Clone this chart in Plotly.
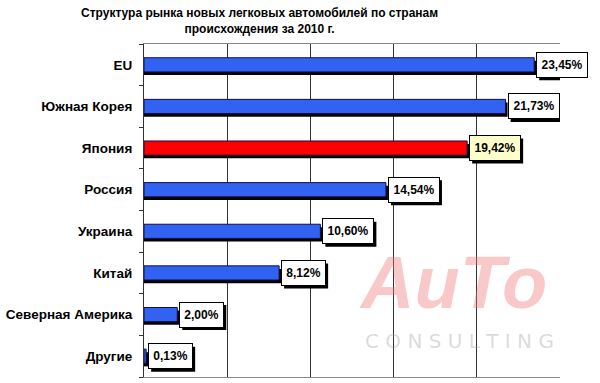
import plotly.graph_objects as go

categories = ["EU", "Южная Корея", "Япония", "Россия", "Украина", "Китай", "Северная Америка", "Другие"]
values = [23.45, 21.73, 19.42, 14.54, 10.60, 8.12, 2.00, 0.13]
labels = ["23,45%", "21,73%", "19,42%", "14,54%", "10,60%", "8,12%", "2,00%", "0,13%"]
highlight = "Япония"

pos = list(range(len(categories)))
bar_colors = ["#FF0000" if c == highlight else "#3162F2" for c in categories]
label_bg = ["#FFFFCC" if c == highlight else "#FFFFFF" for c in categories]

W, H = 600, 383
ml, mr, mt, mb = 142, 40, 44, 6
pw, ph = W - ml - mr, H - mt - mb

def px_x(x):
    return (x - ml) / pw

def px_y(y):
    return 1 - (y - mt) / ph

def text_w(s):
    w = 0.0
    for ch in s:
        if ch.isdigit():
            w += 6.67
        elif ch == ",":
            w += 3.33
        elif ch == "%":
            w += 10.67
    return w

fig = go.Figure()
# shadow bars
fig.add_trace(go.Bar(
    x=[v + 0.12 for v in values], y=[p + 0.075 for p in pos], orientation="h",
    marker=dict(color="#000000", line=dict(width=0)), width=0.34,
    hoverinfo="skip", showlegend=False))
fig.add_trace(go.Bar(
    x=values, y=pos, orientation="h",
    marker=dict(color=bar_colors, line=dict(color="#10104a", width=1)), width=0.34,
    showlegend=False))

annotations = []
shapes = []
# watermark (behind labels)
annotations.append(dict(x=px_x(452), y=px_y(282), xref="paper", yref="paper", text="<i><b>AuTo</b></i>",
                        xanchor="center", yanchor="middle",
                        showarrow=False, font=dict(family="Arial", size=74, color="rgba(240,120,120,0.40)")))
annotations.append(dict(x=px_x(459), y=px_y(341), xref="paper", yref="paper", text="C O N S U L T I N G",
                        xanchor="center", yanchor="middle",
                        showarrow=False, font=dict(family="DejaVu Sans", size=20, color="rgba(150,150,150,0.35)")))

PAD = 4
BH = 16
SHIFT = 2
for v, p, t, bg in zip(values, pos, labels, label_bg):
    tw = round(text_w(t)) + 1
    bw = tw + 2 * PAD + 1
    bh = BH + 2 * PAD + 1
    shapes.append(dict(type="rect", xref="x", yref="y", xsizemode="pixel", ysizemode="pixel",
                       xanchor=v, yanchor=p,
                       x0=SHIFT + 3, x1=SHIFT + 3 + bw, y0=-bh / 2 - 3, y1=bh / 2 - 3,
                       fillcolor="#000000", line=dict(width=0), layer="above"))
    annotations.append(dict(x=v, y=p, xref="x", yref="y", text="<b>" + t + "</b>", showarrow=False,
                            xanchor="left", yanchor="middle", xshift=SHIFT, width=tw, height=BH,
                            bgcolor=bg, bordercolor="#000000", borderwidth=1, borderpad=PAD,
                            font=dict(family="Arial", size=12, color="#000000")))

# title
annotations.append(dict(x=px_x(258), y=px_y(4), xref="paper", yref="paper", xanchor="center", yanchor="top",
                        text="<b>Структура рынка новых легковых автомобилей по странам<br>происхождения за 2010 г.</b>",
                        showarrow=False, align="center",
                        font=dict(family="Arial", size=12, color="#000000")))

fig.update_layout(
    width=W, height=H,
    margin=dict(l=ml, r=mr, t=mt, b=mb),
    paper_bgcolor="white", plot_bgcolor="white",
    barmode="overlay",
    xaxis=dict(range=[0, 25], dtick=5, showticklabels=False, showgrid=True,
               gridcolor="#333333", gridwidth=1, zeroline=False,
               showline=True, linecolor="#888888", mirror=True, ticks=""),
    yaxis=dict(range=[7.5, -0.5], tickvals=pos, ticktext=categories,
               tickfont=dict(family="Arial", size=13.5, color="#000000", weight="bold"),
               showgrid=False, zeroline=False, ticks="", ticklabelstandoff=8,
               showline=True, linecolor="#333333",
               minor=dict(tickmode="linear", tick0=0.5, dtick=1, ticks="outside",
                          ticklen=4, tickcolor="#333333", showgrid=False)),
    annotations=annotations,
    shapes=shapes,
)

fig.write_html("out.html")
